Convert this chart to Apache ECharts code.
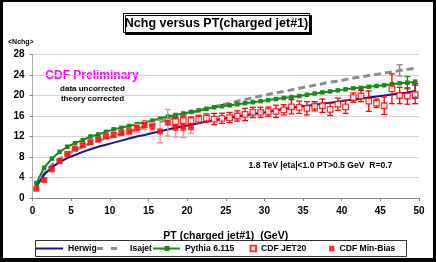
<!DOCTYPE html>
<html><head><meta charset="utf-8">
<script src="https://cdn.jsdelivr.net/npm/echarts@6/dist/echarts.min.js"></script>
<style>html,body{margin:0;padding:0;background:#fff}#c{width:436px;height:262px}</style>
</head><body><div id="c"></div>
<script>
const xTicks = [0,5,10,15,20,25,30,35,40,45,50];
const yTicks = [0,4,8,12,16,20,24,28];
const ptAll = [0.5,1.5,2.5,3.5,4.5,5.5,6.5,7.5,8.5,9.5,10.5,11.5,12.5,13.5,14.5,15.5,16.5,17.5,18.5,19.5,20.5,21.5,22.5,23.5,24.5,25.5,26.5,27.5,28.5,29.5,30.5,31.5,32.5,33.5,34.5,35.5,36.5,37.5,38.5,39.5,40.5,41.5,42.5,43.5,44.5,45.5,46.5,47.5,48.5,49.5];
const herwig = [2.3,4.6,6.0,7.0,7.8,8.4,9.0,9.5,10.0,10.4,10.8,11.2,11.6,12.0,12.3,12.7,13.0,13.35,13.7,14.0,14.3,14.6,14.9,15.15,15.4,15.65,15.9,16.15,16.4,16.6,16.85,17.1,17.35,17.6,17.8,18.0,18.2,18.4,18.6,18.8,19.0,19.2,19.4,19.6,19.8,20.0,20.2,20.4,20.6,20.9];
const isajet = [2.3,4.7,6.5,7.6,8.5,9.3,10.0,10.6,11.1,11.6,12.0,12.5,12.9,13.4,13.9,14.4,14.9,15.3,15.8,16.2,16.6,17.0,17.4,17.8,18.2,18.5,18.9,19.2,19.6,19.9,20.2,20.5,20.8,21.1,21.4,21.7,22.0,22.3,22.6,22.8,23.1,23.4,23.6,23.9,24.1,24.4,24.6,24.9,25.1,25.3];
const pythia = [2.9,5.9,7.7,9.0,10.0,10.7,11.3,12.0,12.4,12.9,13.4,13.7,14.05,14.4,14.8,15.1,15.5,15.9,16.2,16.5,16.8,17.1,17.4,17.7,17.9,18.1,18.3,18.5,18.7,18.9,19.1,19.3,19.5,19.7,19.9,20.15,20.4,20.6,20.8,21.0,21.2,21.4,21.5,21.7,21.85,22.0,22.2,22.4,22.5,22.7];
const ptMB = [0.5,1.5,2.5,3.5,4.5,5.5,6.5,7.5,8.5,9.5,10.5,11.5,12.5,13.5,14.5,15.5,16.5,17.5,18.5,19.5,20.5];
const minBias = [1.8,3.5,5.6,7.2,8.6,9.6,10.3,10.9,11.4,12.0,12.3,12.7,13.0,13.6,14.2,13.9,13.0,14.7,13.7,13.7,13.8];
const minBiasErr = [0.15,0.15,0.2,0.2,0.2,0.25,0.3,0.3,0.35,0.5,0.5,0.5,0.6,0.8,0.8,0.8,2.2,2.6,1.8,1.9,1.2];
const ptJ20 = [18.5,19.5,20.5,21.5,22.5,23.5,24.5,25.5,26.5,27.5,28.5,29.5,30.5,31.5,32.5,33.5,34.5,35.5,36.5,37.5,38.5,39.5,40.5,41.5,42.5,43.5,44.5,45.5,46.5,47.5,48.5,49.5];
const jet20 = [14.9,15.1,15.1,15.35,15.6,15.4,15.55,15.7,16.0,16.3,16.7,16.7,16.85,16.9,17.2,17.8,17.7,17.5,17.9,18.0,17.3,18.3,17.8,19.6,19.9,18.9,18.5,18.0,21.3,20.0,19.9,20.2];
const jet20Err = [0.8,0.7,0.7,0.8,0.8,1.1,1.0,1.0,1.0,1.2,1.0,1.0,0.9,1.2,1.0,1.4,1.2,1.3,0.9,1.3,1.2,1.2,1.3,0.9,1.1,2.0,0.8,1.7,2.9,1.6,1.6,1.8];
const theoryErrPt = {Herwig:49.5, Isajet:47.5, 'Pythia 6.115':48.5};
const theoryErr = {Herwig:1.4, Isajet:1.1, 'Pythia 6.115':1.2};

const FONT = '"Liberation Sans", Arial, sans-serif';
const NAVY = '#14148c', GRAY = '#8c8c8c', GREEN = '#1a8a1a', RED = '#ff0000', PINK = '#ff8c8c';

function zip(xs, ys){ return xs.map((x,i)=>[x, ys[i]]); }
function errData(xs, ys, es){ return xs.map((x,i)=>[x, ys[i]-es[i], ys[i]+es[i]]); }
function errSeries(data, color, z){
  return {type:'custom', silent:true, z:z||3, data:data, encode:{x:0,y:[1,2]},
    renderItem:function(params, api){
      const lo = api.coord([api.value(0), api.value(1)]);
      const hi = api.coord([api.value(0), api.value(2)]);
      const w = 3;
      const st = {stroke:color, lineWidth:1.3};
      return {type:'group', children:[
        {type:'line', shape:{x1:lo[0],y1:lo[1],x2:hi[0],y2:hi[1]}, style:st},
        {type:'line', shape:{x1:lo[0]-w,y1:lo[1],x2:lo[0]+w,y2:lo[1]}, style:st},
        {type:'line', shape:{x1:hi[0]-w,y1:hi[1],x2:hi[0]+w,y2:hi[1]}, style:st}
      ]};
    }};
}
function theoryPoint(name, arr){
  const x = theoryErrPt[name]; const i = ptAll.indexOf(x);
  return [[x, arr[i]-theoryErr[name], arr[i]+theoryErr[name]]];
}

const legendText = {fontFamily:FONT, fontWeight:'bold', fontSize:8.6, color:'#000'};
const LEG_TOP = 244;
function lg(item, left, w, h){
  return {data:[item], left:left, top:LEG_TOP, itemWidth:w, itemHeight:h, itemGap:0, padding:0, textStyle:legendText, selectedMode:false};
}

const chart = echarts.init(document.getElementById('c'), null, {renderer:'canvas'});
chart.setOption({
  animation:false,
  backgroundColor:'#fff',
  grid:{left:32.5, right:17, top:54.5, bottom:64, containLabel:false},
  xAxis:{type:'value', min:0, max:50, interval:5,
    axisLine:{show:true, lineStyle:{color:'#888', width:1}},
    axisTick:{show:true, length:3, lineStyle:{color:'#888'}},
    splitLine:{show:false},
    axisLabel:{fontFamily:FONT, fontWeight:'bold', fontSize:10, color:'#000', margin:8,
      formatter:v=>xTicks.includes(v)?String(v):''},
    name:'PT (charged jet#1)  (GeV)', nameLocation:'middle', nameGap:33,
    nameTextStyle:{fontFamily:FONT, fontWeight:'bold', fontSize:10.5, color:'#000'}},
  yAxis:{type:'value', min:0, max:28, interval:4,
    axisLine:{show:true, lineStyle:{color:'#aaa', width:1}},
    axisTick:{show:true, length:3, lineStyle:{color:'#888'}},
    splitLine:{show:true, lineStyle:{color:'#d4d4d4', width:1}},
    axisLabel:{fontFamily:FONT, fontWeight:'bold', fontSize:10, color:'#000', margin:8,
      formatter:v=>yTicks.includes(v)?String(v):''}},
  legend:[
    lg({name:'Herwig', icon:'rect', itemStyle:{color:NAVY}}, 36, 27, 2),
    lg({name:'Isajet', icon:'path://M0,0h6v3h-6z M14,0h6v3h-6z M28,0h0.01v3h-0.01z', itemStyle:{color:GRAY}}, 97, 28, 3),
    lg({name:'Pythia 6.115', icon:'path://M0,1.5h27v2h-27z M11.5,0h5v5h-5z', itemStyle:{color:GREEN}}, 153, 27, 5),
    lg('CDF JET20', 249.5, 5.5, 5.5),
    lg('CDF Min-Bias', 329, 5.5, 5.5)
  ],
  graphic:[
    {type:'rect', shape:{x:0,y:0,width:3,height:262}, style:{fill:'#000'}, z:100},
    {type:'rect', shape:{x:0,y:0,width:436,height:2}, style:{fill:'#000'}, z:100},
    {type:'rect', shape:{x:433,y:0,width:3,height:262}, style:{fill:'#000'}, z:100},
    {type:'rect', shape:{x:0,y:258,width:436,height:4}, style:{fill:'#000'}, z:100},
    {type:'rect', shape:{x:123.5,y:13.5,width:186,height:19}, style:{fill:'#fff', stroke:'#000', lineWidth:1, shadowColor:'#000', shadowOffsetX:2, shadowOffsetY:2, shadowBlur:0}, z:50},
    {type:'text', x:216.5, y:23.5, style:{text:'Nchg versus PT(charged jet#1)', fontFamily:FONT, fontWeight:'bold', fontSize:12.5, fill:'#000', align:'center', verticalAlign:'middle'}, z:51},
    {type:'rect', shape:{x:35.5,y:240.5,width:371,height:16}, style:{fill:'#fff', stroke:'#333', lineWidth:1}, z:-1},
    {type:'text', x:8, y:42.5, style:{text:'<Nchg>', fontFamily:FONT, fontWeight:'bold', fontSize:7, fill:'#000', verticalAlign:'middle'}},
    {type:'text', x:92, y:75.5, style:{text:'CDF Preliminary', fontFamily:FONT, fontWeight:'bold', fontSize:12, fill:'#ff00ff', align:'center', verticalAlign:'middle'}},
    {type:'text', x:92.5, y:88.5, style:{text:'data uncorrected', fontFamily:FONT, fontWeight:'bold', fontSize:8, fill:'#000', align:'center', verticalAlign:'middle'}},
    {type:'text', x:92.5, y:98.5, style:{text:'theory corrected', fontFamily:FONT, fontWeight:'bold', fontSize:8, fill:'#000', align:'center', verticalAlign:'middle'}},
    {type:'text', x:248.5, y:166, style:{text:'1.8 TeV |eta|<1.0 PT>0.5 GeV  R=0.7', fontFamily:FONT, fontWeight:'bold', fontSize:8.6, fill:'#000', verticalAlign:'middle'}}
  ],
  series:[
    {name:'Isajet', type:'line', data:zip(ptAll, isajet), showSymbol:false, symbol:'none', z:3,
      lineStyle:{color:GRAY, width:3, type:[7,4]}, itemStyle:{color:GRAY}},
    errSeries(theoryPoint('Isajet', isajet), GRAY, 3),
    {name:'Herwig', type:'line', data:zip(ptAll, herwig), showSymbol:false, symbol:'none', z:4,
      lineStyle:{color:NAVY, width:2}, itemStyle:{color:NAVY}},
    errSeries(theoryPoint('Herwig', herwig), NAVY, 4),
    {name:'Pythia 6.115', type:'line', data:zip(ptAll, pythia), symbol:'rect', symbolSize:4.5, showSymbol:true, z:5,
      lineStyle:{color:GREEN, width:2}, itemStyle:{color:GREEN}},
    errSeries(theoryPoint('Pythia 6.115', pythia), GREEN, 5),
    errSeries(errData(ptMB, minBias, minBiasErr), PINK, 6),
    {name:'CDF Min-Bias', type:'scatter', data:zip(ptMB, minBias), symbol:'rect', symbolSize:6, z:7,
      itemStyle:{color:RED}},
    errSeries(errData(ptJ20, jet20, jet20Err), RED, 8),
    {name:'CDF JET20', type:'scatter', data:zip(ptJ20, jet20), symbol:'rect', symbolSize:5.5, z:9,
      itemStyle:{color:'#fff', borderColor:RED, borderWidth:1.3}}
  ]
});
</script></body></html>
